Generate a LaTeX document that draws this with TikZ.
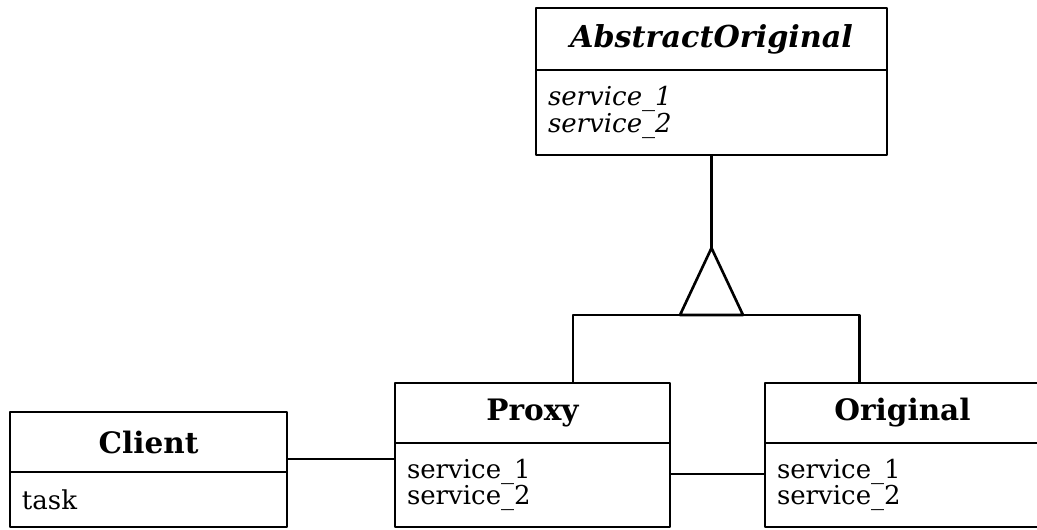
\documentclass[tikz,border=0pt]{standalone}
\usepackage{fontspec}
\setmainfont{DejaVu Serif}
\usetikzlibrary{positioning}
\tikzset{
  classhead/.style={draw,line width=1.5pt,inner sep=0pt,outer sep=0pt,minimum height=1.2cm,font=\bfseries\fontsize{16.8}{18}\selectfont},
  classbody/.style={draw,line width=1.5pt,inner xsep=0.24cm,inner ysep=0pt,outer sep=0pt,align=left,font=\fontsize{14.8}{14.9}\selectfont},
  link/.style={line width=1.5pt},
}
\begin{document}
\begin{tikzpicture}[line join=round]
  \useasboundingbox (0,0) rectangle (20.74,10.58);
  % abstract class on top
  \node[classhead,anchor=north west,minimum width=7.02cm,minimum height=1.24cm,font=\bfseries\itshape\fontsize{17.2}{18}\selectfont] (abshead) at (10.72,10.42) {AbstractOriginal};
  \node[classbody,below=0pt of abshead,text width=6.54cm,minimum height=1.7cm,font=\itshape\fontsize{14.8}{14.9}\selectfont] (absbody) {service\_1\\service\_2};
  % the three classes below
  \node[classhead,anchor=north west,minimum width=5.54cm] (clienthead) at (0.2,2.34) {Client};
  \node[classbody,below=0pt of clienthead,text width=5.06cm,minimum height=1.1cm] (clientbody) {task};
  \node[classhead,anchor=north west,minimum width=5.5cm] (proxyhead) at (7.9,2.92) {Proxy};
  \node[classbody,below=0pt of proxyhead,text width=5.02cm,minimum height=1.68cm] (proxybody) {service\_1\\service\_2};
  \node[classhead,anchor=north west,minimum width=5.5cm] (orighead) at (15.3,2.92) {Original};
  \node[classbody,below=0pt of orighead,text width=5.02cm,minimum height=1.68cm] (origbody) {service\_1\\service\_2};
  % generalisation
  \draw[link] (absbody.south) -- ++(0,-1.86) coordinate (apex);
  \draw[link] (apex) -- ++(-0.63,-1.34) coordinate (bar) -- ++(1.26,0) -- cycle;
  \draw[link] ([xshift=0.81cm]proxyhead.north) |- (bar) -| ([xshift=-0.86cm]orighead.north);
  % associations
  \draw[link] ([yshift=-0.34cm]clienthead.east) coordinate (c1) -- (c1 -| proxybody.west);
  \draw[link] ([yshift=0.22cm]proxybody.east) coordinate (p1) -- (p1 -| origbody.west);
\end{tikzpicture}
\end{document}
